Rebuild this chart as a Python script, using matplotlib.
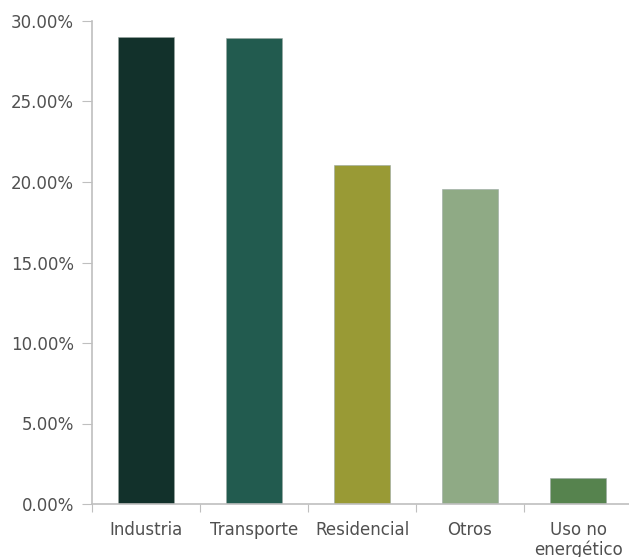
import matplotlib.pyplot as plt
from matplotlib.ticker import FuncFormatter

# sector shares (%)
sectors = ['Industria', 'Transporte', 'Residencial', 'Otros', 'Uso no\nenergético']
shares = [29.0, 28.95, 21.05, 19.55, 1.6]
colors = ['#12312B', '#225B4F', '#999A35', '#8FAA85', '#56834E']

fig = plt.figure(figsize=(6.29, 5.57), dpi=100)
ax = fig.add_axes([92 / 629, 53 / 557, 540 / 629, 483 / 557])

ax.bar(range(len(sectors)), shares, width=0.51, color=colors,
       edgecolor='#9aa8a2', linewidth=0.4)

ax.set_xlim(-0.5, len(sectors) - 0.5)
ax.set_ylim(0, 30)
ax.set_yticks([0, 5, 10, 15, 20, 25, 30])
ax.yaxis.set_major_formatter(FuncFormatter(lambda v, p: f'{v:.2f}%'))

# category ticks sit between bars
ax.set_xticks([i - 0.5 for i in range(len(sectors) + 1)])
ax.set_xticklabels([])
ax.set_xticks(range(len(sectors)), minor=True)
ax.set_xticklabels(sectors, minor=True, fontsize=12, color='#505050',
                   linespacing=1.15)
ax.tick_params(axis='x', which='minor', length=0, pad=12)
ax.tick_params(axis='x', which='major', length=6, color='#BFBFBF')
ax.tick_params(axis='y', length=7, color='#BFBFBF', labelsize=12,
               labelcolor='#505050', pad=6)

for s in ['top', 'right']:
    ax.spines[s].set_visible(False)
for s in ['left', 'bottom']:
    ax.spines[s].set_color('#BFBFBF')
    ax.spines[s].set_linewidth(1.2)

for lab in ax.get_xticklabels(minor=True) + ax.get_yticklabels():
    lab.set_fontfamily('DejaVu Sans')

fig.savefig('out.png', dpi=100)
